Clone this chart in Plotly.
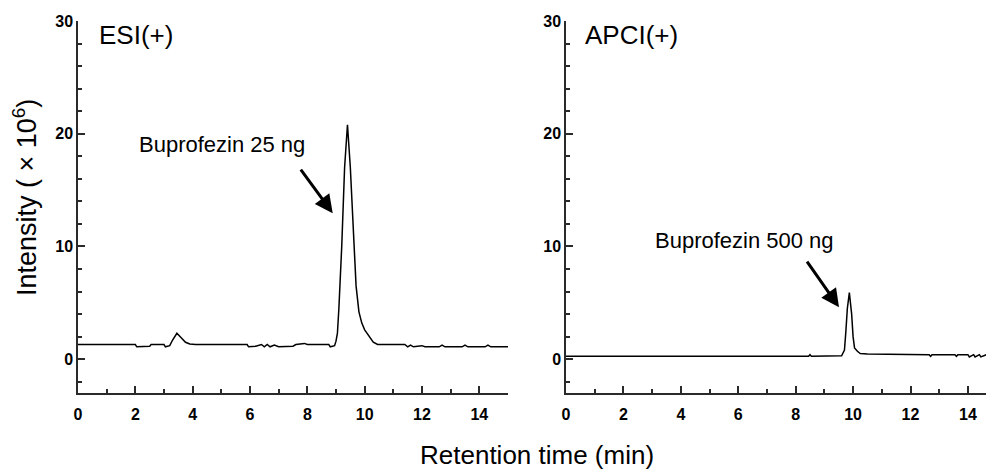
import plotly.graph_objects as go

# ESI(+) chromatogram
esi_time = [0, 2.0, 2.05, 2.1, 2.5, 2.55, 3.0, 3.05, 3.2, 3.3, 3.45, 3.6, 3.75, 3.9, 4.1,
            5.9, 5.95, 6.2, 6.4, 6.5, 6.6, 6.7, 6.85, 7.0, 7.5, 7.6, 7.9, 8.0, 8.75, 8.8,
            8.95, 9.0, 9.05, 9.1, 9.2, 9.3, 9.4, 9.5, 9.6, 9.7, 9.8, 9.9, 10.0, 10.1, 10.2,
            10.3, 10.45, 11.4, 11.5, 11.6, 11.7, 12.0, 12.1, 12.6, 12.7, 12.8, 13.4, 13.5,
            13.6, 14.2, 14.3, 14.4, 15.0]
esi_int = [1.3, 1.3, 1.1, 1.1, 1.15, 1.3, 1.3, 1.1, 1.2, 1.7, 2.3, 1.9, 1.5, 1.35, 1.3,
           1.3, 1.1, 1.15, 1.3, 1.1, 1.3, 1.1, 1.25, 1.1, 1.15, 1.3, 1.4, 1.3, 1.3, 1.1,
           1.2, 1.6, 2.3, 4.5, 10.0, 17.0, 20.8, 17.0, 11.0, 6.5, 4.2, 3.2, 2.6, 2.2, 1.8,
           1.5, 1.3, 1.3, 1.1, 1.25, 1.1, 1.2, 1.1, 1.1, 1.25, 1.1, 1.1, 1.25,
           1.1, 1.1, 1.25, 1.1, 1.1]

# APCI(+) chromatogram
apci_time = [0, 8.45, 8.5, 8.55, 9.6, 9.7, 9.75, 9.8, 9.87, 9.95, 10.0, 10.05, 10.15, 10.25,
             10.5, 12.65, 12.7, 12.75, 13.55, 13.6, 13.65, 14.0, 14.05, 14.2, 14.25, 14.4,
             14.45, 14.65]
apci_int = [0.25, 0.25, 0.4, 0.25, 0.3, 0.8, 2.5, 4.5, 5.9, 4.0, 2.0, 1.0, 0.7, 0.5,
            0.45, 0.4, 0.25, 0.4, 0.4, 0.25, 0.4, 0.4, 0.2, 0.4, 0.2, 0.4,
            0.2, 0.4]

panel_labels = ["ESI(+)", "APCI(+)"]
peak_labels = ["Buprofezin 25 ng", "Buprofezin 500 ng"]
x_ticks = [0, 2, 4, 6, 8, 10, 12, 14]
y_ticks = [0, 10, 20, 30]

W, H = 986, 473
ax_col = "#2a2a2a"

fig = go.Figure()
fig.add_trace(go.Scatter(x=esi_time, y=esi_int, mode="lines",
                         line=dict(color="black", width=1.5), xaxis="x", yaxis="y",
                         showlegend=False, hoverinfo="skip"))
fig.add_trace(go.Scatter(x=apci_time, y=apci_int, mode="lines",
                         line=dict(color="black", width=1.5), xaxis="x2", yaxis="y2",
                         showlegend=False, hoverinfo="skip"))

tickfont = dict(family="Liberation Sans, Arial", size=16, color="black", weight="bold")

def xax(domain, rng, anchor):
    return dict(domain=domain, range=rng, anchor=anchor, tickvals=x_ticks,
                ticks="inside", ticklen=7, tickwidth=1.5, tickcolor=ax_col,
                showline=True, linecolor=ax_col, linewidth=1.5, showgrid=False,
                zeroline=False, tickfont=tickfont, automargin=False,
                ticklabelstandoff=6,
                minor=dict(dtick=1, tick0=0, ticks="inside", ticklen=4, tickwidth=1.5,
                           tickcolor=ax_col, showgrid=False))

def yax(domain, anchor):
    return dict(domain=domain, range=[-3, 30], anchor=anchor, tickvals=y_ticks,
                ticks="inside", ticklen=7, tickwidth=1.5, tickcolor=ax_col,
                showline=True, linecolor=ax_col, linewidth=1.5, showgrid=False,
                zeroline=False, tickfont=tickfont, automargin=False,
                minor=dict(dtick=2, tick0=0, ticks="inside", ticklen=4, tickwidth=1.5,
                           tickcolor=ax_col, showgrid=False))

ydom = [1 - 393 / H, 1 - 21 / H]
fig.update_layout(
    width=W, height=H, margin=dict(l=0, r=0, t=0, b=0, autoexpand=False),
    paper_bgcolor="white", plot_bgcolor="white",
    xaxis=xax([78 / W, 508 / W], [0, 15], "y"),
    yaxis=yax(ydom, "x"),
    xaxis2=xax([566 / W, 1.0], [0, 14.63], "y2"),
    yaxis2=yax(ydom, "x2"),
    font=dict(family="Liberation Sans, Arial", color="black"),
)

labfont = dict(family="Liberation Sans, Arial", size=26, color="black")
pkfont = dict(family="Liberation Sans, Arial", size=22, color="black")

ann = [
    dict(text=panel_labels[0], x=97 / W, y=1 - 35 / H, xref="paper", yref="paper",
         xanchor="left", yanchor="middle", showarrow=False, font=labfont),
    dict(text=panel_labels[1], x=583 / W, y=1 - 35 / H, xref="paper", yref="paper",
         xanchor="left", yanchor="middle", showarrow=False, font=labfont),
    dict(text=peak_labels[0], x=222 / W, y=1 - 144 / H, xref="paper", yref="paper",
         xanchor="center", yanchor="middle", showarrow=False, font=pkfont),
    dict(text=peak_labels[1], x=744 / W, y=1 - 240 / H, xref="paper", yref="paper",
         xanchor="center", yanchor="middle", showarrow=False, font=pkfont),
    dict(text="", x=8.885, y=12.95, xref="x", yref="y", showarrow=True,
         ax=-33, ay=-45, arrowhead=2, arrowsize=1.2, arrowwidth=3, arrowcolor="black"),
    dict(text="", x=9.51, y=4.61, xref="x2", yref="y2", showarrow=True,
         ax=-33, ay=-47, arrowhead=2, arrowsize=1.2, arrowwidth=3, arrowcolor="black"),
    dict(text="Intensity ( × 10<sup>6</sup>)", x=25 / W, y=1 - 198 / H,
         xref="paper", yref="paper", textangle=-90, xanchor="center", yanchor="middle",
         showarrow=False, font=dict(family="Liberation Sans, Arial", size=27, color="black")),
    dict(text="Retention time (min)", x=537 / W, y=1 - 455 / H, xref="paper", yref="paper",
         xanchor="center", yanchor="middle", showarrow=False,
         font=dict(family="Liberation Sans, Arial", size=26, color="black")),
]
fig.update_layout(annotations=ann)

fig.write_html("out.html", config={"displayModeBar": False},
               post_script="document.body.style.margin='0';document.body.style.overflow='hidden';")
